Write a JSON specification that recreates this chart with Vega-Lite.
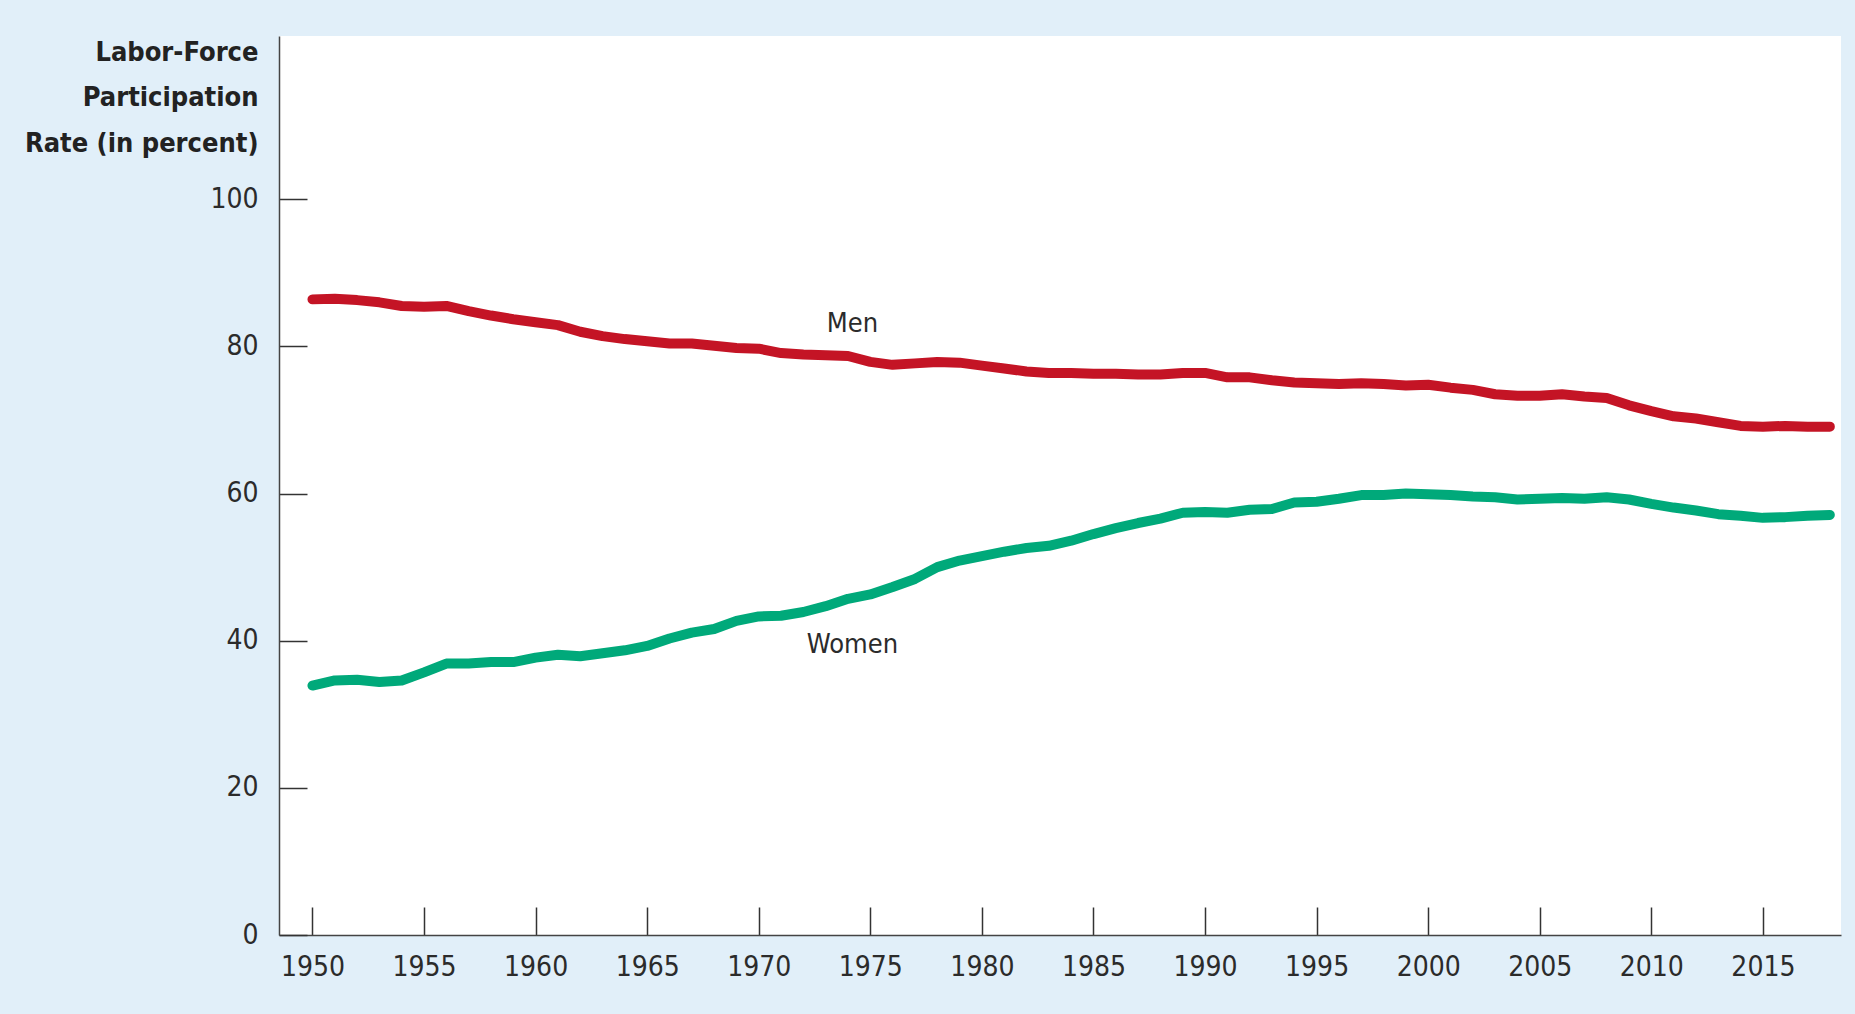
{
  "$schema": "https://vega.github.io/schema/vega-lite/v6.json",
  "width": 1562,
  "height": 899,
  "autosize": {"type": "none"},
  "padding": {"left": 279, "top": 36, "right": 14, "bottom": 79},
  "background": "#e1eff9",
  "config": {
    "view": {"fill": "white", "stroke": null},
    "font": "DejaVu Sans Condensed, sans-serif"
  },
  "datasets": {
    "series": [
      {"year":1950,"sex":"Men","rate":86.4},{"year":1951,"sex":"Men","rate":86.5},{"year":1952,"sex":"Men","rate":86.3},{"year":1953,"sex":"Men","rate":86.0},{"year":1954,"sex":"Men","rate":85.5},{"year":1955,"sex":"Men","rate":85.4},{"year":1956,"sex":"Men","rate":85.5},{"year":1957,"sex":"Men","rate":84.8},{"year":1958,"sex":"Men","rate":84.2},{"year":1959,"sex":"Men","rate":83.7},
      {"year":1960,"sex":"Men","rate":83.3},{"year":1961,"sex":"Men","rate":82.9},{"year":1962,"sex":"Men","rate":82.0},{"year":1963,"sex":"Men","rate":81.4},{"year":1964,"sex":"Men","rate":81.0},{"year":1965,"sex":"Men","rate":80.7},{"year":1966,"sex":"Men","rate":80.4},{"year":1967,"sex":"Men","rate":80.4},{"year":1968,"sex":"Men","rate":80.1},{"year":1969,"sex":"Men","rate":79.8},
      {"year":1970,"sex":"Men","rate":79.7},{"year":1971,"sex":"Men","rate":79.1},{"year":1972,"sex":"Men","rate":78.9},{"year":1973,"sex":"Men","rate":78.8},{"year":1974,"sex":"Men","rate":78.7},{"year":1975,"sex":"Men","rate":77.9},{"year":1976,"sex":"Men","rate":77.5},{"year":1977,"sex":"Men","rate":77.7},{"year":1978,"sex":"Men","rate":77.9},{"year":1979,"sex":"Men","rate":77.8},
      {"year":1980,"sex":"Men","rate":77.4},{"year":1981,"sex":"Men","rate":77.0},{"year":1982,"sex":"Men","rate":76.6},{"year":1983,"sex":"Men","rate":76.4},{"year":1984,"sex":"Men","rate":76.4},{"year":1985,"sex":"Men","rate":76.3},{"year":1986,"sex":"Men","rate":76.3},{"year":1987,"sex":"Men","rate":76.2},{"year":1988,"sex":"Men","rate":76.2},{"year":1989,"sex":"Men","rate":76.4},
      {"year":1990,"sex":"Men","rate":76.4},{"year":1991,"sex":"Men","rate":75.8},{"year":1992,"sex":"Men","rate":75.8},{"year":1993,"sex":"Men","rate":75.4},{"year":1994,"sex":"Men","rate":75.1},{"year":1995,"sex":"Men","rate":75.0},{"year":1996,"sex":"Men","rate":74.9},{"year":1997,"sex":"Men","rate":75.0},{"year":1998,"sex":"Men","rate":74.9},{"year":1999,"sex":"Men","rate":74.7},
      {"year":2000,"sex":"Men","rate":74.8},{"year":2001,"sex":"Men","rate":74.4},{"year":2002,"sex":"Men","rate":74.1},{"year":2003,"sex":"Men","rate":73.5},{"year":2004,"sex":"Men","rate":73.3},{"year":2005,"sex":"Men","rate":73.3},{"year":2006,"sex":"Men","rate":73.5},{"year":2007,"sex":"Men","rate":73.2},{"year":2008,"sex":"Men","rate":73.0},{"year":2009,"sex":"Men","rate":72.0},
      {"year":2010,"sex":"Men","rate":71.2},{"year":2011,"sex":"Men","rate":70.5},{"year":2012,"sex":"Men","rate":70.2},{"year":2013,"sex":"Men","rate":69.7},{"year":2014,"sex":"Men","rate":69.2},{"year":2015,"sex":"Men","rate":69.1},{"year":2016,"sex":"Men","rate":69.2},{"year":2017,"sex":"Men","rate":69.1},{"year":2018,"sex":"Men","rate":69.1},
      {"year":1950,"sex":"Women","rate":33.9},{"year":1951,"sex":"Women","rate":34.6},{"year":1952,"sex":"Women","rate":34.7},{"year":1953,"sex":"Women","rate":34.4},{"year":1954,"sex":"Women","rate":34.6},{"year":1955,"sex":"Women","rate":35.7},{"year":1956,"sex":"Women","rate":36.9},{"year":1957,"sex":"Women","rate":36.9},{"year":1958,"sex":"Women","rate":37.1},{"year":1959,"sex":"Women","rate":37.1},
      {"year":1960,"sex":"Women","rate":37.7},{"year":1961,"sex":"Women","rate":38.1},{"year":1962,"sex":"Women","rate":37.9},{"year":1963,"sex":"Women","rate":38.3},{"year":1964,"sex":"Women","rate":38.7},{"year":1965,"sex":"Women","rate":39.3},{"year":1966,"sex":"Women","rate":40.3},{"year":1967,"sex":"Women","rate":41.1},{"year":1968,"sex":"Women","rate":41.6},{"year":1969,"sex":"Women","rate":42.7},
      {"year":1970,"sex":"Women","rate":43.3},{"year":1971,"sex":"Women","rate":43.4},{"year":1972,"sex":"Women","rate":43.9},{"year":1973,"sex":"Women","rate":44.7},{"year":1974,"sex":"Women","rate":45.7},{"year":1975,"sex":"Women","rate":46.3},{"year":1976,"sex":"Women","rate":47.3},{"year":1977,"sex":"Women","rate":48.4},{"year":1978,"sex":"Women","rate":50.0},{"year":1979,"sex":"Women","rate":50.9},
      {"year":1980,"sex":"Women","rate":51.5},{"year":1981,"sex":"Women","rate":52.1},{"year":1982,"sex":"Women","rate":52.6},{"year":1983,"sex":"Women","rate":52.9},{"year":1984,"sex":"Women","rate":53.6},{"year":1985,"sex":"Women","rate":54.5},{"year":1986,"sex":"Women","rate":55.3},{"year":1987,"sex":"Women","rate":56.0},{"year":1988,"sex":"Women","rate":56.6},{"year":1989,"sex":"Women","rate":57.4},
      {"year":1990,"sex":"Women","rate":57.5},{"year":1991,"sex":"Women","rate":57.4},{"year":1992,"sex":"Women","rate":57.8},{"year":1993,"sex":"Women","rate":57.9},{"year":1994,"sex":"Women","rate":58.8},{"year":1995,"sex":"Women","rate":58.9},{"year":1996,"sex":"Women","rate":59.3},{"year":1997,"sex":"Women","rate":59.8},{"year":1998,"sex":"Women","rate":59.8},{"year":1999,"sex":"Women","rate":60.0},
      {"year":2000,"sex":"Women","rate":59.9},{"year":2001,"sex":"Women","rate":59.8},{"year":2002,"sex":"Women","rate":59.6},{"year":2003,"sex":"Women","rate":59.5},{"year":2004,"sex":"Women","rate":59.2},{"year":2005,"sex":"Women","rate":59.3},{"year":2006,"sex":"Women","rate":59.4},{"year":2007,"sex":"Women","rate":59.3},{"year":2008,"sex":"Women","rate":59.5},{"year":2009,"sex":"Women","rate":59.2},
      {"year":2010,"sex":"Women","rate":58.6},{"year":2011,"sex":"Women","rate":58.1},{"year":2012,"sex":"Women","rate":57.7},{"year":2013,"sex":"Women","rate":57.2},{"year":2014,"sex":"Women","rate":57.0},{"year":2015,"sex":"Women","rate":56.7},{"year":2016,"sex":"Women","rate":56.8},{"year":2017,"sex":"Women","rate":57.0},{"year":2018,"sex":"Women","rate":57.1}
    ],
    "labels": [
      {"year":1974.2,"rate":83.1,"label":"Men"},
      {"year":1974.2,"rate":39.4,"label":"Women"}
    ]
  },
  "layer": [
    {
      "data": {"name": "series"},
      "mark": {"type": "line", "strokeWidth": 10, "strokeCap": "round", "strokeJoin": "round"},
      "encoding": {
        "x": {
          "field": "year", "type": "quantitative",
          "scale": {"domain": [1948.5, 2018.5], "nice": false, "zero": false},
          "axis": {
            "title": null, "values": [1950,1955,1960,1965,1970,1975,1980,1985,1990,1995,2000,2005,2010,2015],
            "format": "d", "grid": false, "tickSize": -28, "tickColor": "#333", "tickWidth": 1.5,
            "domainColor": "#444", "domainWidth": 1.5, "labelFontSize": 28, "labelColor": "#2b2b2b",
            "labelPadding": 46, "labelBaseline": "top", "labelFlush": false
          }
        },
        "y": {
          "field": "rate", "type": "quantitative",
          "scale": {"domain": [0, 122.2], "nice": false},
          "axis": {
            "title": ["Labor-Force", "Participation", "Rate (in percent)"],
            "titleAngle": 0, "titleAlign": "right", "titleBaseline": "alphabetic",
            "titleX": -21, "titleY": 24, "titleFontSize": 27, "titleFontWeight": "bold",
            "titleLineHeight": 45.5, "titleColor": "#222",
            "values": [0,20,40,60,80,100], "grid": false, "tickSize": -28, "tickColor": "#333", "tickWidth": 1.5,
            "domainColor": "#444", "domainWidth": 1.5, "labelFontSize": 28, "labelColor": "#2b2b2b",
            "labelPadding": 49, "labelFlush": false
          }
        },
        "color": {
          "field": "sex", "type": "nominal",
          "scale": {"domain": ["Men", "Women"], "range": ["#c41425", "#00a97a"]},
          "legend": null
        }
      }
    },
    {
      "data": {"name": "labels"},
      "mark": {"type": "text", "fontSize": 27, "color": "#2b2b2b", "align": "center", "baseline": "middle"},
      "encoding": {
        "x": {"field": "year", "type": "quantitative"},
        "y": {"field": "rate", "type": "quantitative"},
        "text": {"field": "label"}
      }
    }
  ]
}
